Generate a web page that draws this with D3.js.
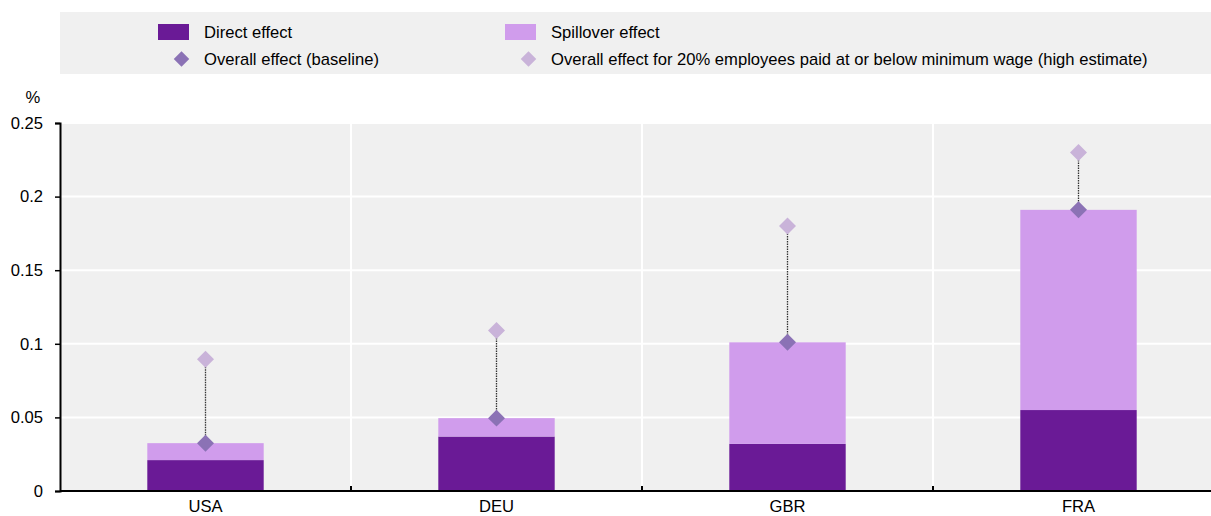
<!DOCTYPE html>
<html>
<head>
<meta charset="utf-8">
<script src="https://cdn.jsdelivr.net/npm/d3@7"></script>
<style>
  body { margin: 0; background: #fff; }
  text { font-family: "Liberation Sans", Arial, sans-serif; fill: #000; }
</style>
</head>
<body>
<div id="chart"></div>
<script>
// chart data
var countries = ["USA", "DEU", "GBR", "FRA"];
var directEffect = [0.021, 0.037, 0.032, 0.055];
var spilloverEffect = [0.0115, 0.0125, 0.069, 0.136];
var overallBaseline = [0.0325, 0.0495, 0.101, 0.191];
var overallHigh = [0.0895, 0.109, 0.18, 0.23];
var yTicks = [0, 0.05, 0.1, 0.15, 0.2, 0.25];

var width = 1211, height = 516;
var margin = {left: 60, right: -13, top: 123, bottom: 25};
var fontSize = "16.6px";

var svg = d3.select("#chart").append("svg")
  .attr("width", width)
  .attr("height", height);

var x = d3.scaleBand().domain(countries)
  .range([margin.left, width - margin.right])
  .paddingInner(0).paddingOuter(0);

var y = d3.scaleLinear().domain([0, 0.25])
  .range([height - margin.bottom, margin.top]);

// plot background
svg.append("rect")
  .attr("x", margin.left).attr("y", y(0.25))
  .attr("width", width - margin.left).attr("height", y(0) - y(0.25))
  .attr("fill", "#f0f0f0");

// horizontal gridlines
svg.append("g").selectAll("line").data(yTicks.slice(1))
  .enter().append("line")
  .attr("x1", margin.left).attr("x2", width)
  .attr("y1", d => y(d)).attr("y2", d => y(d))
  .attr("stroke", "#fff").attr("stroke-width", 2);

// vertical gridlines between categories
svg.append("g").selectAll("line").data(countries.slice(1))
  .enter().append("line")
  .attr("x1", d => x(d)).attr("x2", d => x(d))
  .attr("y1", y(0.25)).attr("y2", y(0))
  .attr("stroke", "#fff").attr("stroke-width", 2);

// stacked bars
var barW = x.bandwidth() * 0.4;
var bars = svg.append("g").selectAll("g").data(countries).enter().append("g");

bars.append("rect")
  .attr("x", d => x(d) + (x.bandwidth() - barW) / 2)
  .attr("width", barW)
  .attr("y", (d, i) => y(directEffect[i]))
  .attr("height", (d, i) => y(0) - y(directEffect[i]))
  .attr("fill", "#6a1a96");

bars.append("rect")
  .attr("x", d => x(d) + (x.bandwidth() - barW) / 2)
  .attr("width", barW)
  .attr("y", (d, i) => y(directEffect[i] + spilloverEffect[i]))
  .attr("height", (d, i) => y(directEffect[i]) - y(directEffect[i] + spilloverEffect[i]))
  .attr("fill", "#d09cec");

// dotted connectors
bars.append("line")
  .attr("x1", d => x(d) + x.bandwidth() / 2)
  .attr("x2", d => x(d) + x.bandwidth() / 2)
  .attr("y1", (d, i) => y(overallHigh[i]))
  .attr("y2", (d, i) => y(overallBaseline[i]))
  .attr("stroke", "#333").attr("stroke-width", 1.3)
  .attr("stroke-dasharray", "1.5,1");

function diamond(sel, cx, cy, half, fill) {
  return sel.append("rect")
    .attr("x", -half).attr("y", -half).attr("width", half * 2).attr("height", half * 2)
    .attr("transform", "translate(" + cx + "," + cy + ") rotate(45)")
    .attr("fill", fill);
}

bars.each(function(d, i) {
  var g = d3.select(this);
  var cx = x(d) + x.bandwidth() / 2;
  diamond(g, cx, y(overallHigh[i]), 6, "#c9b3d9");
  diamond(g, cx, y(overallBaseline[i]), 6, "#8b72b5");
});

// y axis
var yAxis = svg.append("g")
  .attr("transform", "translate(" + margin.left + ",0)")
  .call(d3.axisLeft(y).tickValues(yTicks).tickSize(5).tickPadding(12)
    .tickFormat(d => d3.format("")(d)));
yAxis.select(".domain").attr("stroke", "#000").attr("stroke-width", 2);
yAxis.selectAll(".tick line").attr("stroke", "#000").attr("stroke-width", 1.5);
yAxis.selectAll("text").style("font-size", fontSize)
  .style("font-family", "Liberation Sans, Arial, sans-serif").attr("fill", "#000");

svg.append("text").attr("x", 33).attr("y", 103)
  .attr("text-anchor", "middle").style("font-size", fontSize).text("%");

// x axis
var xAxis = svg.append("g")
  .attr("transform", "translate(0," + y(0) + ")")
  .call(d3.axisBottom(x).tickSize(0).tickPadding(9));
xAxis.select(".domain").remove();
xAxis.selectAll("text").style("font-size", fontSize)
  .style("font-family", "Liberation Sans, Arial, sans-serif").attr("fill", "#000");
svg.append("line")
  .attr("x1", margin.left).attr("x2", width)
  .attr("y1", y(0)).attr("y2", y(0))
  .attr("stroke", "#000").attr("stroke-width", 2);
svg.append("g").selectAll("line").data(countries.slice(1))
  .enter().append("line")
  .attr("x1", d => x(d)).attr("x2", d => x(d))
  .attr("y1", y(0) - 5).attr("y2", y(0))
  .attr("stroke", "#000").attr("stroke-width", 2);

// legend
var legend = svg.append("g");
legend.append("rect")
  .attr("x", margin.left).attr("y", 12)
  .attr("width", width - margin.left).attr("height", 62)
  .attr("fill", "#f0f0f0");

var legendItems = [
  {type: "rect", fill: "#6a1a96", label: "Direct effect", x: 158, y: 32},
  {type: "rect", fill: "#d09cec", label: "Spillover effect", x: 505, y: 32},
  {type: "diamond", fill: "#8b72b5", label: "Overall effect (baseline)", x: 158, y: 59},
  {type: "diamond", fill: "#c9b3d9", label: "Overall effect for 20% employees paid at or below minimum wage (high estimate)", x: 505, y: 59}
];

legendItems.forEach(function(it) {
  if (it.type === "rect") {
    legend.append("rect").attr("x", it.x).attr("y", it.y - 8)
      .attr("width", 31).attr("height", 16).attr("fill", it.fill);
  } else {
    diamond(legend, it.x + 23.5, it.y, 5.5, it.fill);
  }
  legend.append("text")
    .attr("x", it.x + 46).attr("y", it.y + 6)
    .style("font-size", fontSize).text(it.label);
});
</script>
</body>
</html>
